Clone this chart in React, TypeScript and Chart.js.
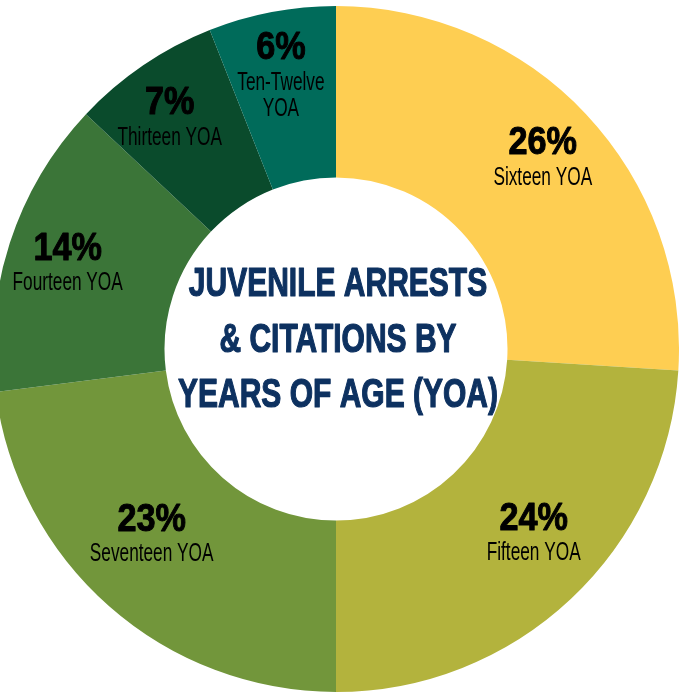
import React, { useEffect, useRef } from "react";
import { Chart, registerables } from "chart.js";

Chart.register(...registerables);

const categories = ["Sixteen YOA", "Fifteen YOA", "Seventeen YOA", "Fourteen YOA", "Thirteen YOA", "Ten-Twelve YOA"];
const nameLines = [["Sixteen YOA"], ["Fifteen YOA"], ["Seventeen YOA"], ["Fourteen YOA"], ["Thirteen YOA"], ["Ten-Twelve", "YOA"]];
const percentages = [26, 24, 23, 14, 7, 6];
const sliceColors = ["#FECE52", "#B3B33D", "#72963B", "#3B7538", "#0A4B2C", "#006B5A"];
const titleLines = ["JUVENILE ARRESTS", "& CITATIONS BY", "YEARS OF AGE (YOA)"];

// label placement tweaks (style only, relative to each slice's computed anchor)
const labelNudgeX = [8, 11, -4, -9, -13, -4];
const labelNudgeY = [-2, -12, -17, 1, -3, -3];

function drawScaled(
  ctx: CanvasRenderingContext2D,
  text: string,
  x: number,
  y: number,
  font: string,
  sx: number,
  color: string,
  stroke = 0
) {
  ctx.save();
  ctx.translate(x, y);
  ctx.scale(sx, 1);
  ctx.font = font;
  ctx.fillStyle = color;
  ctx.textAlign = "center";
  ctx.textBaseline = "middle";
  if (stroke > 0) {
    ctx.strokeStyle = color;
    ctx.lineWidth = stroke;
    ctx.lineJoin = "round";
    ctx.strokeText(text, 0, 0);
  }
  ctx.fillText(text, 0, 0);
  ctx.restore();
}

const labelPlugin = {
  id: "sliceLabels",
  afterDatasetsDraw(chart: any) {
    const ctx = chart.ctx as CanvasRenderingContext2D;
    const meta = chart.getDatasetMeta(0);
    meta.data.forEach((arc: any, i: number) => {
      const p = arc.getProps(["x", "y", "startAngle", "endAngle", "innerRadius", "outerRadius"], true);
      const mid = (p.startAngle + p.endAngle) / 2;
      const r = p.innerRadius + 0.59 * (p.outerRadius - p.innerRadius);
      const cx = p.x + Math.cos(mid) * r + labelNudgeX[i];
      const cy = p.y + Math.sin(mid) * r + labelNudgeY[i];
      const lines = nameLines[i];
      const gapPct = 35;
      const lh = 26;
      const blockH = gapPct + (lines.length - 1) * lh;
      const top = cy - blockH / 2;
      drawScaled(ctx, percentages[i] + "%", cx, top + 1, "bold 38px 'Liberation Sans', Arial, sans-serif", 0.9, "#000000", 1);
      lines.forEach((ln, j) => {
        drawScaled(ctx, ln, cx, top + gapPct + j * lh, "25px 'Liberation Sans', Arial, sans-serif", 0.69, "#000000");
      });
    });
    const cxc = meta.data[0].x;
    const cyc = meta.data[0].y;
    const offs = [-65, -9, 46];
    titleLines.forEach((t, j) => {
      drawScaled(ctx, t, cxc + 2, cyc + offs[j] + 1, "bold 40px 'Liberation Sans', Arial, sans-serif", 0.75, "#0D3160", 1.2);
    });
  },
};

export default function App() {
  const ref = useRef<HTMLCanvasElement | null>(null);
  useEffect(() => {
    if (!ref.current) return;
    const chart = new Chart(ref.current, {
      type: "doughnut",
      data: {
        labels: categories,
        datasets: [
          {
            data: percentages,
            backgroundColor: sliceColors,
            borderWidth: 0,
          },
        ],
      },
      options: {
        responsive: false,
        animation: false,
        cutout: "50%",
        layout: { padding: 0 },
        plugins: {
          legend: { display: false },
          tooltip: { enabled: false },
        },
      },
      plugins: [labelPlugin],
    });
    return () => chart.destroy();
  }, []);
  return (
    <div style={{ position: "absolute", left: 0, top: 0, width: 679, height: 694, overflow: "hidden", background: "#ffffff" }}>
      <canvas ref={ref} width={686} height={686} style={{ position: "absolute", left: -7, top: 6, width: 686, height: 686 }} />
    </div>
  );
}
